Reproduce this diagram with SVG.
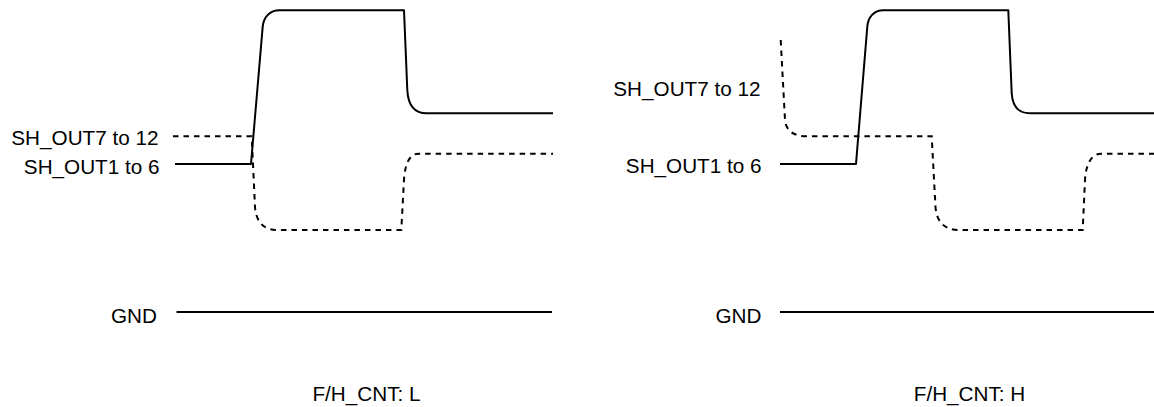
<svg xmlns="http://www.w3.org/2000/svg" width="1154" height="407" viewBox="0 0 1154 407">
<style>
text{font-family:"Liberation Sans",Arial,sans-serif;font-size:20.7px;fill:#000}
.lbl{text-anchor:end}
.ttl{text-anchor:middle}
.solid{fill:none;stroke:#000;stroke-width:2;stroke-linejoin:round}
.dash{fill:none;stroke:#000;stroke-width:2;stroke-dasharray:5.5 5}
</style>
<rect width="1154" height="407" fill="#fff"/>
<g id="panel-L">
  <g id="labels-L">
    <text class="lbl" x="158.5" y="144.5">SH_OUT7 to 12</text>
    <text class="lbl" x="159.5" y="173.5">SH_OUT1 to 6</text>
    <text class="lbl" x="157" y="323">GND</text>
    <text class="ttl" x="366.5" y="401">F/H_CNT: L</text>
  </g>
  <g id="waves-L">
    <path id="sh1-6-L" class="solid" d="M175,164 H251 L262.7,26.7 C263.5,17 270,10.3 279.3,10.3 H404 L407.3,90 C408,104 414,113.3 426.7,113.3 H553"/>
    <path id="sh7-12-L" class="dash" d="M173,136.3 H251.7 L255,207 C256,222 264,230 276.7,230 H401.3 L404,180 C405,163 410,153.7 418.3,153.7 H553"/>
    <path id="gnd-L" class="solid" d="M176.5,312 H552"/>
  </g>
</g>
<g id="panel-R">
  <g id="labels-R">
    <text class="lbl" x="760.5" y="96">SH_OUT7 to 12</text>
    <text class="lbl" x="761.5" y="173">SH_OUT1 to 6</text>
    <text class="lbl" x="761.5" y="323">GND</text>
    <text class="ttl" x="969.5" y="401">F/H_CNT: H</text>
  </g>
  <g id="waves-R">
    <path id="sh1-6-R" class="solid" d="M780,164 H856 L867.3,26.7 C868,17 874,10.3 883.3,10.3 H1008.3 L1011.7,93.3 C1012.5,106 1018,113.3 1030,113.3 H1156"/>
    <path id="sh7-12-R" class="dash" d="M780.7,40 L785,120 C786,131 794,136.3 806.7,136.3 H931.7 L935.5,207 C936.5,222 945,230 958,230 H1082.7 L1085,180 C1086,163 1092,153.7 1101,153.7 H1156"/>
    <path id="gnd-R" class="solid" d="M780,312 H1156"/>
  </g>
</g>
</svg>
